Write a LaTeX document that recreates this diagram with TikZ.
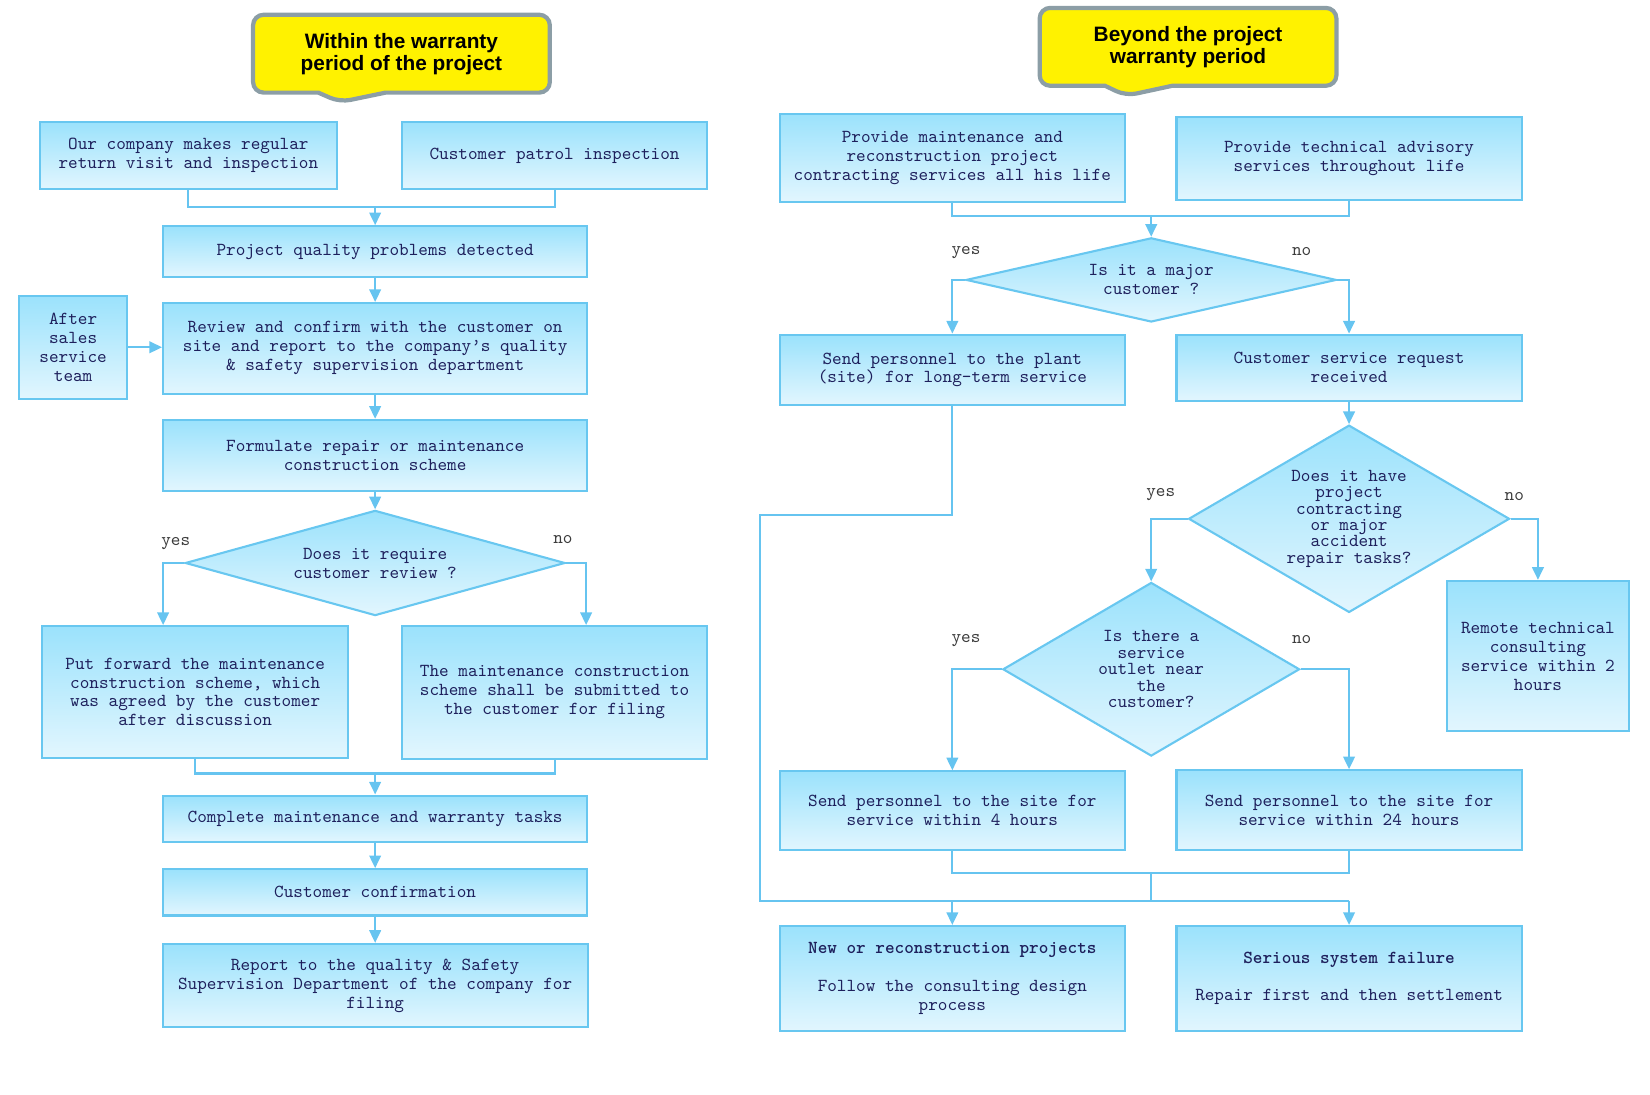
\documentclass[tikz,border=0pt]{standalone}
\usepackage{fontspec}
\usetikzlibrary{arrows.meta,shapes.geometric,shapes.callouts}
\newfontfamily\monofont{lmmono10-regular.otf}[BoldFont=lmmonolt10-bold.otf]
\newfontfamily\headfont{Liberation Sans}
\definecolor{boxtop}{RGB}{155,226,252}
\definecolor{boxbot}{RGB}{226,246,254}
\definecolor{boxline}{RGB}{104,199,240}
\definecolor{linkcol}{RGB}{102,196,240}
\definecolor{inkblue}{RGB}{30,32,92}
\definecolor{headline}{RGB}{140,158,166}
\definecolor{labelgray}{RGB}{60,60,60}
\begin{document}
\begin{tikzpicture}[x=0.5pt,y=-0.5pt]
    % Definizione stili
    \tikzstyle{task}=[draw=boxline, line width=1pt, top color=boxtop, bottom color=boxbot, text=inkblue, align=center, inner sep=0pt, font=\monofont\fontsize{8.7}{9}\selectfont]
    \tikzstyle{decision}=[task, diamond]
    \tikzstyle{banner}=[rectangle callout, draw=headline, line width=2pt, fill=yellow, rounded corners=5pt, align=center, minimum width=141pt, minimum height=37pt, callout pointer width=32pt, font=\headfont\bfseries\fontsize{9.9}{10.4}\selectfont]
    \tikzstyle{link}=[draw=linkcol, line width=1pt]
    \tikzstyle{linkarrow}=[link, -{Triangle[width=5.5pt,length=6pt]}]
    \tikzstyle{answer}=[text=labelgray, font=\monofont\fontsize{8.7}{9}\selectfont]

    \useasboundingbox (0,0) rectangle (1568,1040);

    % Colonna sinistra: entro la garanzia
    \node[banner, callout absolute pointer={(323,97)}] (head_in) at (381.5,51) {Within the warranty\\period of the project};
    \node[task, minimum width=141pt, minimum height=32pt] (chk_visit) at (179,148) {Our company makes regular\\return visit and inspection};
    \node[task, minimum width=145pt, minimum height=32pt] (chk_patrol) at (527,148) {Customer patrol inspection};
    \node[task, minimum width=201.5pt, minimum height=24pt] (prob_found) at (356.5,239) {Project quality problems detected};
    \node[task, minimum width=201.5pt, minimum height=43pt] (review_site) at (356.5,331) {Review and confirm with the customer on\\site and report to the company’s quality\\\& safety supervision department};
    \node[task, minimum width=51.5pt, minimum height=49pt] (after_sales) at (69.5,330) {After\\sales\\service\\team};
    \node[task, minimum width=201.5pt, minimum height=34pt] (plan_repair) at (356.5,433) {Formulate repair or maintenance\\construction scheme};
    \node[decision, shape aspect=3.6, minimum width=180.5pt, minimum height=50pt] (ask_review) at (356.5,535) {Does it require\\customer review ?};
    \node[task, minimum width=145.5pt, minimum height=62.5pt] (plan_agreed) at (185.5,657.5) {Put forward the maintenance\\construction scheme, which\\was agreed by the customer\\after discussion};
    \node[task, minimum width=145pt, minimum height=63pt] (plan_filed) at (527,658) {The maintenance construction\\scheme shall be submitted to\\the customer for filing};
    \node[task, minimum width=201.5pt, minimum height=22pt] (work_done) at (356.5,778) {Complete maintenance and warranty tasks};
    \node[task, minimum width=201.5pt, minimum height=22pt] (cust_confirm) at (356.5,848) {Customer confirmation};
    \node[task, minimum width=202pt, minimum height=39.5pt] (report_file) at (356.5,936.5) {Report to the quality \& Safety\\Supervision Department of the company for\\filing};

    % Collegamenti a sinistra
    \coordinate (join_a) at (356.5,197);
    \draw[link] (chk_visit.south) |- (join_a) -| (chk_patrol.south);
    \draw[linkarrow] (join_a) -- (prob_found);
    \draw[linkarrow] (prob_found) -- (review_site);
    \draw[linkarrow] (after_sales.east) -- (after_sales.east -| review_site.west);
    \draw[linkarrow] (review_site) -- (plan_repair);
    \draw[linkarrow] (plan_repair) -- (ask_review);
    \coordinate (turn_yes) at (155,535);
    \coordinate (turn_no) at (557,535);
    \draw[linkarrow] (ask_review.west) -- (turn_yes) -- (turn_yes |- plan_agreed.north);
    \draw[linkarrow] (ask_review.east) -- (turn_no) -- (turn_no |- plan_filed.north);
    \node[answer] (yes_a) at (167,517) {yes};
    \node[answer] (no_a) at (535,513) {no};
    \coordinate (join_b) at (356.5,735);
    \draw[link] (plan_agreed.south) |- (join_b) -| (plan_filed.south);
    \draw[linkarrow] (join_b) -- (work_done);
    \draw[linkarrow] (work_done) -- (cust_confirm);
    \draw[linkarrow] (cust_confirm) -- (report_file);

    % Colonna destra: oltre la garanzia
    \node[banner, callout absolute pointer={(1070,91)}] (head_out) at (1129,44.5) {Beyond the project\\warranty period};
    \node[task, minimum width=164pt, minimum height=42pt] (life_contract) at (905,150) {Provide maintenance and\\reconstruction project\\contracting services all his life};
    \node[task, minimum width=164pt, minimum height=39.5pt] (life_advice) at (1282,150.5) {Provide technical advisory\\services throughout life};
    \node[decision, shape aspect=4.4, minimum width=176pt, minimum height=40pt] (ask_major) at (1094,266) {Is it a major\\customer ?};
    \node[task, minimum width=164pt, minimum height=33.5pt] (long_term) at (905,351.5) {Send personnel to the plant\\(site) for long-term service};
    \node[task, minimum width=164pt, minimum height=31.5pt] (req_received) at (1282,349.5) {Customer service request\\received};
    \node[decision, shape aspect=1.71, minimum width=152.5pt, minimum height=89pt, font=\monofont\fontsize{8.7}{7.8}\selectfont] (ask_task) at (1282,493) {Does it have\\project\\contracting\\or major\\accident\\repair tasks?};
    \node[task, minimum width=86.5pt, minimum height=71.5pt] (remote_help) at (1461.5,623.5) {Remote technical\\consulting\\service within 2\\hours};
    \node[decision, shape aspect=1.71, minimum width=141pt, minimum height=82.5pt, font=\monofont\fontsize{8.7}{7.8}\selectfont] (ask_outlet) at (1094,636) {Is there a\\service\\outlet near\\the\\customer?};
    \node[task, minimum width=164pt, minimum height=37.5pt] (go_4h) at (905,770.5) {Send personnel to the site for\\service within 4 hours};
    \node[task, minimum width=164pt, minimum height=38pt] (go_24h) at (1282,770) {Send personnel to the site for\\service within 24 hours};
    \node[task, minimum width=164pt, minimum height=50pt] (new_proj) at (905,930) {\textbf{New or reconstruction projects}\\[9pt]Follow the consulting design\\process};
    \node[task, minimum width=164pt, minimum height=50pt] (sys_fail) at (1282,930) {\textbf{Serious system failure}\\[8.5pt]Repair first and then settlement};

    % Collegamenti a destra
    \coordinate (join_c) at (1094,205);
    \draw[link] (life_contract.south) |- (join_c) -| (life_advice.south);
    \draw[linkarrow] (join_c) -- (ask_major);
    \draw[linkarrow] (ask_major.west) -| (long_term.north);
    \draw[linkarrow] (ask_major.east) -| (req_received.north);
    \node[answer] (yes_b) at (918,240) {yes};
    \node[answer] (no_b) at (1237,239) {no};
    \draw[linkarrow] (req_received) -- (ask_task);
    \draw[linkarrow] (ask_task.west) -| (ask_outlet.north);
    \draw[linkarrow] (ask_task.east) -| (remote_help.north);
    \node[answer] (yes_c) at (1103,470) {yes};
    \node[answer] (no_c) at (1439,472) {no};
    \draw[linkarrow] (ask_outlet.west) -| (go_4h.north);
    \draw[linkarrow] (ask_outlet.east) -| (go_24h.north);
    \node[answer] (yes_d) at (918,609) {yes};
    \node[answer] (no_d) at (1237,608) {no};
    \coordinate (join_d) at (1094,830);
    \draw[link] (go_4h.south) |- (join_d) -| (go_24h.south);
    \coordinate (bend_l) at (722,489);
    \coordinate (bus_l) at (905,856);
    \coordinate (bus_m) at (1094,856);
    \coordinate (bus_r) at (1282,856);
    \draw[link] (long_term.south) |- (bend_l) |- (bus_r);
    \draw[link] (join_d) -- (bus_m);
    \draw[linkarrow] (bus_l) -- (new_proj);
    \draw[linkarrow] (bus_r) -- (sys_fail);
\end{tikzpicture}
\end{document}
